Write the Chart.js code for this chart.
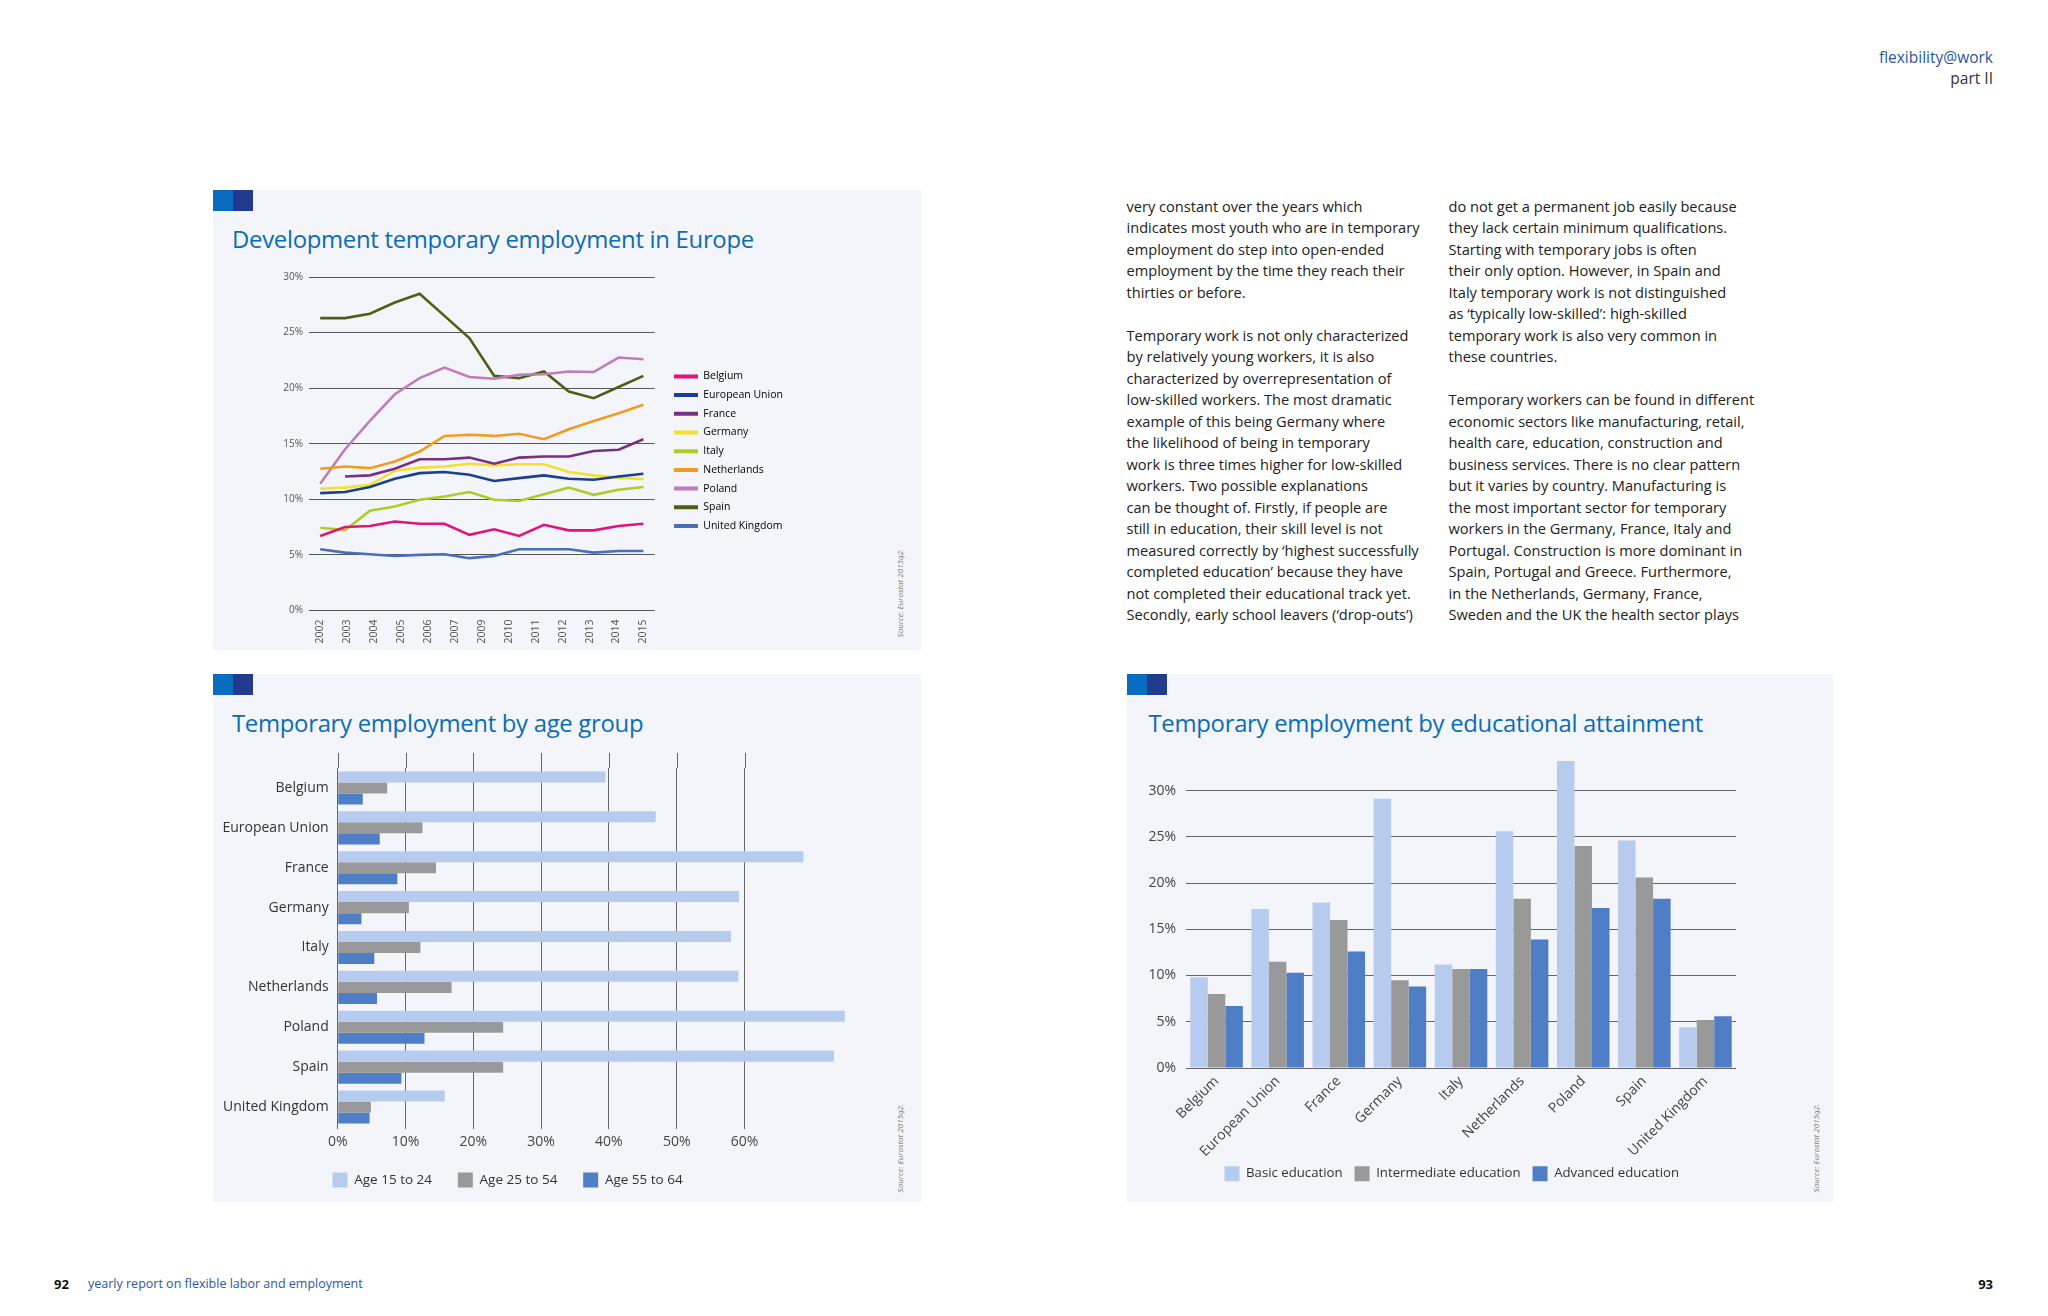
<!DOCTYPE html>
<html><head><meta charset="utf-8">
<script src="https://cdn.jsdelivr.net/npm/chart.js@4.4.1/dist/chart.umd.min.js"></script>
<style>
html,body{margin:0;padding:0;background:#fff;}
body{width:2048px;height:1316px;position:relative;overflow:hidden;font-family:"Open Sans",sans-serif;}
.panel{position:absolute;background:#f4f5fa;}
.sq{position:absolute;width:20px;height:21px;}
.title{position:absolute;color:#0b6cb6;font-size:23.9px;line-height:30px;white-space:nowrap;letter-spacing:-0.3px;}
.src{position:absolute;writing-mode:vertical-rl;transform:rotate(180deg);font-style:italic;font-size:8px;line-height:12px;color:#777;white-space:nowrap;}
.col{position:absolute;font-size:14.6px;line-height:21.5px;color:#222;white-space:pre;}
canvas{position:absolute;}
</style></head><body>

<div style="position:absolute;right:55px;top:46px;font-size:15.5px;line-height:22px;color:#2a55a2;">flexibility@work</div>
<div style="position:absolute;right:55px;top:67px;font-size:15.5px;line-height:22px;color:#333;">part II</div>

<div class="panel" style="left:213px;top:190px;width:708px;height:460px;"></div>
<div class="panel" style="left:213px;top:674px;width:708px;height:528px;"></div>
<div class="panel" style="left:1127px;top:674px;width:706px;height:528px;"></div>

<div class="sq" style="left:213px;top:190px;background:#0a6cc0;"></div>
<div class="sq" style="left:233px;top:190px;background:#233b8e;"></div>
<div class="sq" style="left:213px;top:674px;background:#0a6cc0;"></div>
<div class="sq" style="left:233px;top:674px;background:#233b8e;"></div>
<div class="sq" style="left:1127px;top:674px;background:#0a6cc0;"></div>
<div class="sq" style="left:1147px;top:674px;background:#233b8e;"></div>

<div class="title" style="left:232px;top:224px;">Development temporary employment in Europe</div>
<div class="title" style="left:232px;top:708px;">Temporary employment by age group</div>
<div class="title" style="left:1148.5px;top:708px;">Temporary employment by educational attainment</div>

<div class="src" style="left:894px;top:549px;">Source: Eurostat 2015q2.</div>
<div class="src" style="left:894px;top:1104px;">Source: Eurostat 2015q2.</div>
<div class="src" style="left:1810px;top:1104px;">Source: Eurostat 2015q2.</div>

<div class="col" style="left:1126.5px;top:195.7px;">very constant over the years which
indicates most youth who are in temporary
employment do step into open-ended
employment by the time they reach their
thirties or before.

Temporary work is not only characterized
by relatively young workers, it is also
characterized by overrepresentation of
low-skilled workers. The most dramatic
example of this being Germany where
the likelihood of being in temporary
work is three times higher for low-skilled
workers. Two possible explanations
can be thought of. Firstly, if people are
still in education, their skill level is not
measured correctly by ‘highest successfully
completed education’ because they have
not completed their educational track yet.
Secondly, early school leavers (‘drop-outs’)</div>

<div class="col" style="left:1448.5px;top:195.7px;">do not get a permanent job easily because
they lack certain minimum qualifications.
Starting with temporary jobs is often
their only option. However, in Spain and
Italy temporary work is not distinguished
as ‘typically low-skilled’: high-skilled
temporary work is also very common in
these countries.

Temporary workers can be found in different
economic sectors like manufacturing, retail,
health care, education, construction and
business services. There is no clear pattern
but it varies by country. Manufacturing is
the most important sector for temporary
workers in the Germany, France, Italy and
Portugal. Construction is more dominant in
Spain, Portugal and Greece. Furthermore,
in the Netherlands, Germany, France,
Sweden and the UK the health sector plays</div>

<div style="position:absolute;left:54px;top:1275px;font-size:13px;line-height:18px;font-weight:bold;color:#111;">92</div>
<div style="position:absolute;left:88px;top:1275px;font-size:12.5px;line-height:18px;color:#2b57a6;">yearly report on flexible labor and employment</div>
<div style="position:absolute;right:55px;top:1275px;font-size:13px;line-height:18px;font-weight:bold;color:#111;">93</div>

<canvas id="c1" width="615" height="410" style="left:245px;top:245px;"></canvas>
<canvas id="c2" width="705" height="475" style="left:213px;top:735px;"></canvas>
<canvas id="c3" width="707" height="500" style="left:1124px;top:710px;"></canvas>

<script>
// ---------- Chart 1: development temporary employment ----------
const years = ['2002','2003','2004','2005','2006','2007','2008','2009','2010','2011','2012','2013','2014','2015'];
const yearTickLabels = ['2002','2003','2004','2005','2006','2007','2009','2010','2011','2012','2013','2014','2015'];
const lineYTicks = [0, 5, 10, 15, 20, 25, 30];

const belgium      = [6.7, 7.5, 7.6, 8.0, 7.8, 7.8, 6.8, 7.3, 6.7, 7.7, 7.2, 7.2, 7.6, 7.8];
const europeanUnion= [10.55, 10.65, 11.1, 11.85, 12.35, 12.45, 12.2, 11.65, 11.9, 12.15, 11.85, 11.75, 12.05, 12.3];
const france       = [null, 12.05, 12.15, 12.75, 13.6, 13.6, 13.75, 13.2, 13.75, 13.85, 13.85, 14.35, 14.45, 15.4];
const germany      = [10.95, 11.05, 11.3, 12.55, 12.85, 12.95, 13.2, 13.05, 13.15, 13.15, 12.45, 12.15, 11.95, 11.8];
const italy        = [7.43, 7.22, 8.96, 9.35, 9.95, 10.25, 10.65, 9.95, 9.85, 10.45, 11.05, 10.4, 10.85, 11.1];
const netherlands  = [12.75, 12.95, 12.8, 13.4, 14.3, 15.7, 15.8, 15.7, 15.9, 15.4, 16.3, 17.05, 17.75, 18.5];
const poland       = [11.4, 14.5, 17.05, 19.45, 20.9, 21.85, 21.0, 20.85, 21.2, 21.25, 21.5, 21.45, 22.75, 22.6];
const spain        = [26.3, 26.3, 26.7, 27.7, 28.5, 26.5, 24.5, 21.1, 20.9, 21.5, 19.7, 19.1, 20.1, 21.1];
const unitedKingdom= [5.5, 5.2, 5.05, 4.9, 5.0, 5.05, 4.7, 4.9, 5.5, 5.5, 5.5, 5.2, 5.35, 5.35];

const lineSeriesNames = ['Belgium','European Union','France','Germany','Italy','Netherlands','Poland','Spain','United Kingdom'];
const lineSeriesValues = [belgium, europeanUnion, france, germany, italy, netherlands, poland, spain, unitedKingdom];
const lineColors = ['#e2137a','#1b3f8f','#7a2e84','#f3e02a','#b0cc22','#f39b1f','#c07cb8','#4d5e15','#4a6fba'];

// ---------- Chart 2: by age group ----------
const ageCountries = ['Belgium','European Union','France','Germany','Italy','Netherlands','Poland','Spain','United Kingdom'];
const age15to24 = [39.5, 46.9, 68.7, 59.2, 58.0, 59.1, 74.8, 73.2, 15.8];
const age25to54 = [7.3, 12.5, 14.5, 10.5, 12.2, 16.8, 24.4, 24.4, 4.9];
const age55to64 = [3.7, 6.2, 8.8, 3.5, 5.4, 5.8, 12.8, 9.4, 4.7];
const ageSeriesNames = ['Age 15 to 24','Age 25 to 54','Age 55 to 64'];

// ---------- Chart 3: by educational attainment ----------
const eduCountries = ['Belgium','European Union','France','Germany','Italy','Netherlands','Poland','Spain','United Kingdom'];
const basicEdu        = [9.8, 17.2, 17.9, 29.1, 11.2, 25.6, 33.2, 24.6, 4.4];
const intermediateEdu = [8.0, 11.5, 16.0, 9.5, 10.7, 18.3, 24.0, 20.6, 5.2];
const advancedEdu     = [6.7, 10.3, 12.6, 8.8, 10.7, 13.9, 17.3, 18.3, 5.6];
const eduSeriesNames = ['Basic education','Intermediate education','Advanced education'];

const barLight = '#b7cbee', barGray = '#999999', barBlue = '#4f7ec6';

Chart.defaults.font.family = '"Open Sans", sans-serif';
Chart.defaults.animation = false;

const legendPos = {
  id: 'legendPos',
  afterLayout(chart, args, opts) {
    const lg = chart.legend;
    if (!lg || opts.x == null) return;
    lg.left = opts.x; lg.top = opts.y;
    lg.right = chart.width; lg.bottom = chart.height;
    if (lg.adjustHitBoxes) lg.adjustHitBoxes();
  }
};

const gridExtend = {
  id: 'gridExtend',
  beforeDatasetsDraw(chart, args, opts) {
    if (!opts.px) return;
    const s = chart.scales.x, ctx = chart.ctx, top = chart.chartArea.top;
    ctx.save();
    ctx.strokeStyle = opts.color; ctx.lineWidth = 1;
    s.ticks.forEach(t => {
      const x = Math.round(s.getPixelForValue(t.value)) + 0.5;
      ctx.beginPath(); ctx.moveTo(x, top - opts.px); ctx.lineTo(x, top); ctx.stroke();
    });
    ctx.restore();
  }
};

function start() {
  new Chart(document.getElementById('c1'), {
    type: 'line',
    data: {
      datasets: lineSeriesNames.map((name, k) => ({
        label: name,
        data: years.map((y, i) => ({x: i, y: lineSeriesValues[k][i]})),
        borderColor: lineColors[k],
        backgroundColor: lineColors[k],
        borderWidth: 2.6,
        pointRadius: 0,
        tension: 0
      }))
    },
    options: {
      responsive: false,
      layout: {padding: {top: 32, right: 105.4, left: 0, bottom: 0}},
      scales: {
        x: {
          type: 'linear', min: -0.45, max: 13.45,
          afterBuildTicks(s) { s.ticks = yearTickLabels.map((t, i) => ({value: i * (years.length - 1) / (yearTickLabels.length - 1)})); },
          ticks: {autoSkip: false, minRotation: 90, maxRotation: 90, callback: (v, i) => yearTickLabels[i], font: {size: 10.5}, color: '#555', padding: 9},
          grid: {display: false, drawTicks: false}, border: {display: false},
          afterFit(s) { s.height = 44.6; }
        },
        y: {
          min: 0, max: 30,
          afterBuildTicks(s) { s.ticks = lineYTicks.map(v => ({value: v})); },
          ticks: {callback: v => v + '%', font: {size: 10}, color: '#555', padding: 6},
          grid: {color: '#555', lineWidth: 1, drawTicks: false}, border: {display: false},
          afterFit(s) { s.width = 64; }
        }
      },
      plugins: {
        legend: {
          position: 'right', align: 'start', maxWidth: 100,
          labels: {
            boxWidth: 24, boxHeight: 4, padding: 8.2, font: {size: 10.5}, color: '#444',
            generateLabels(chart) {
              return chart.data.datasets.map((ds, i) => ({text: ds.label, fillStyle: ds.borderColor, strokeStyle: ds.borderColor, lineWidth: 0, hidden: false, datasetIndex: i}));
            }
          }
        },
        legendPos: {x: 420.8, y: 117.95},
        tooltip: {enabled: false}
      }
    },
    plugins: [legendPos]
  });

  new Chart(document.getElementById('c2'), {
    type: 'bar',
    data: {
      labels: ageCountries,
      datasets: [
        {label: ageSeriesNames[0], data: age15to24, backgroundColor: barLight},
        {label: ageSeriesNames[1], data: age25to54, backgroundColor: barGray},
        {label: ageSeriesNames[2], data: age55to64, backgroundColor: barBlue}
      ]
    },
    options: {
      responsive: false,
      indexAxis: 'y',
      datasets: {bar: {categoryPercentage: 0.83, barPercentage: 1.0}},
      layout: {padding: {top: 33, right: 37.9, left: 0, bottom: 8.2}},
      scales: {
        x: {
          min: 0, max: 80,
          ticks: {stepSize: 10, callback: v => v + '%', font: {size: 14}, color: '#444', padding: 4.3},
          afterBuildTicks(s) { s.ticks = s.ticks.filter(t => t.value <= 60); },
          grid: {color: '#666', lineWidth: 1, drawTicks: true, tickLength: 2}, border: {display: false},
          afterFit(s) { s.height = 24; }
        },
        y: {
          ticks: {font: {size: 14}, color: '#333', padding: 9},
          grid: {display: false, drawTicks: false}, border: {display: false},
          afterFit(s) { s.width = 124.7; }
        }
      },
      plugins: {
        legend: {position: 'bottom', align: 'start', labels: {boxWidth: 15, boxHeight: 15, padding: 25.8, font: {size: 13.5}, color: '#333'}},
        legendPos: {x: 93.7, y: 411.7},
        gridExtend: {px: 15, color: '#666'},
        tooltip: {enabled: false}
      }
    },
    plugins: [legendPos, gridExtend]
  });

  new Chart(document.getElementById('c3'), {
    type: 'bar',
    data: {
      labels: eduCountries,
      datasets: [
        {label: eduSeriesNames[0], data: basicEdu, backgroundColor: barLight},
        {label: eduSeriesNames[1], data: intermediateEdu, backgroundColor: barGray},
        {label: eduSeriesNames[2], data: advancedEdu, backgroundColor: barBlue}
      ]
    },
    options: {
      responsive: false,
      datasets: {bar: {categoryPercentage: 0.86, barPercentage: 1.0}},
      layout: {padding: {top: 34.3, right: 95, left: 0, bottom: 5}},
      scales: {
        x: {
          ticks: {autoSkip: false, minRotation: 45, maxRotation: 45, font: {size: 14}, color: '#444', padding: 5},
          grid: {display: false, drawTicks: false}, border: {display: false},
          afterFit(s) { s.height = 100; }
        },
        y: {
          min: 0, max: 35,
          ticks: {stepSize: 5, callback: v => v + '%', font: {size: 14}, color: '#444', padding: 10},
          afterBuildTicks(s) { s.ticks = s.ticks.filter(t => t.value <= 30); },
          grid: {color: '#666', lineWidth: 1, drawTicks: false}, border: {display: false},
          afterFit(s) { s.width = 62; }
        }
      },
      plugins: {
        legend: {position: 'bottom', align: 'start', labels: {boxWidth: 15, boxHeight: 15, padding: 12, font: {size: 13.2}, color: '#333'}},
        legendPos: {x: 88.5, y: 444.2},
        tooltip: {enabled: false}
      }
    },
    plugins: [legendPos]
  });
}
if (document.fonts && document.fonts.ready) { document.fonts.ready.then(start); } else { start(); }
</script>
</body></html>
